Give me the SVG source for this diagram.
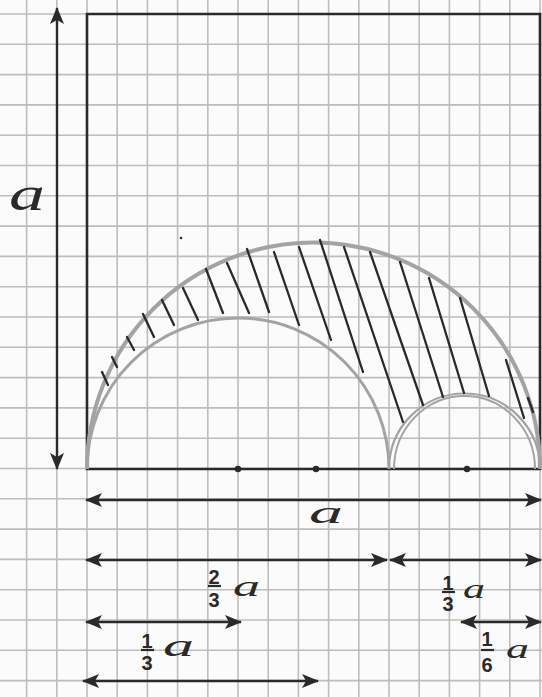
<svg xmlns="http://www.w3.org/2000/svg" width="542" height="697" viewBox="0 0 542 697">
<defs>
<style>
.grid{stroke:#bdbdbd;stroke-width:1.6;fill:none}
.ink{stroke:#2a2a2a;stroke-width:2.6;fill:none;stroke-linecap:round}
.dim{stroke:#2a2a2a;stroke-width:2.4;fill:none;marker-start:url(#ah);marker-end:url(#ah)}
.arc{stroke:#a3a3a3;fill:none}
.hatch{stroke:#2a2a2a;stroke-width:2.3;stroke-linecap:round}
.lbl{font-family:"Liberation Serif","Times New Roman",serif;font-style:italic;fill:#2a2a2a}
.num{font-family:"Liberation Sans",Arial,sans-serif;font-weight:bold;fill:#2a2a2a;font-size:20px;text-anchor:middle}
.bar{stroke:#2a2a2a;stroke-width:2.2}
</style>
<marker id="ah" markerUnits="userSpaceOnUse" markerWidth="18" markerHeight="14" refX="16" refY="7" orient="auto-start-reverse">
<path d="M0,0 L17,7 L0,14 L4,7 z" fill="#2a2a2a"/>
</marker>
</defs>
<rect width="542" height="697" fill="#fbfbfb"/>
<g id="grid">
<path class="grid" d="M26.6,0V697M56.8,0V697M87,0V697M117.2,0V697M147.4,0V697M177.6,0V697M207.8,0V697M238,0V697M268.2,0V697M298.4,0V697M328.6,0V697M358.8,0V697M389,0V697M419.2,0V697M449.4,0V697M479.6,0V697M509.8,0V697M540,0V697"/>
<path class="grid" d="M0,14H542M0,44.3H542M0,74.6H542M0,104.9H542M0,135.2H542M0,165.5H542M0,195.8H542M0,226.1H542M0,256.4H542M0,286.7H542M0,317H542M0,347.3H542M0,377.6H542M0,407.9H542M0,438.2H542M0,468.5H542M0,498.8H542M0,529.1H542M0,559.4H542M0,589.7H542M0,620H542M0,650.3H542M0,680.6H542"/>
</g>
<g id="square">
<path class="ink" d="M87,469 V14 H540 V469 Z" stroke-linecap="butt"/>
</g>
<g id="arcs">
<path class="arc" stroke-width="4" d="M87,469 A226.5,226.5 0 0 1 540,469"/>
<path class="arc" stroke-width="3" d="M87,469 A151,151 0 0 1 389,469"/>
<path class="arc" stroke-width="2.2" d="M389,469 A75.5,75.5 0 0 1 540,469"/>
<path class="arc" stroke-width="2" stroke="#b8b8b8" d="M394,469 A70.5,73 0 0 1 535,469"/>
</g>
<g id="hatching">
<path class="hatch" d="M102,372L108,385M112,357L117,367M127,337L134,350M143,314L154,337M162,300L174,325M183,288L198,320M206,269L223,313M227,263L249,313M247,249L269,312M274,252L299,325M299,247L331,340M320,240L363,372M344,247L403,422M370,252L423,405M400,262L443,397M429,278L464,393M460,298L489,396M506,360L524,418M528,398L533,412"/>
</g>
<g id="points">
<circle cx="238" cy="469" r="3.2" fill="#2a2a2a"/>
<circle cx="316" cy="469" r="3.2" fill="#2a2a2a"/>
<circle cx="467" cy="469" r="3.2" fill="#2a2a2a"/>
<circle cx="181" cy="238" r="1.3" fill="#2a2a2a"/>
</g>
<g id="connectors">
<line class="dim" x1="57" y1="469" x2="57" y2="8"/>
<line class="dim" x1="86" y1="500" x2="541" y2="500"/>
<line class="dim" x1="86" y1="560" x2="387" y2="560"/>
<line class="dim" x1="390" y1="560" x2="541" y2="560"/>
<line class="dim" x1="86" y1="622" x2="241" y2="622"/>
<line class="dim" x1="461" y1="622" x2="541" y2="622"/>
<line class="dim" x1="83" y1="681" x2="318" y2="681"/>
</g>
<g id="labels">
<text class="lbl" x="9" y="210" font-size="48" textLength="36" lengthAdjust="spacingAndGlyphs">a</text>
<text class="lbl" x="309" y="523" font-size="32" textLength="34" lengthAdjust="spacingAndGlyphs">a</text>
<g id="lbl-2-3">
<text class="num" x="214" y="584">2</text>
<line class="bar" x1="208" y1="586" x2="221" y2="586"/>
<text class="num" x="214" y="607">3</text>
<text class="lbl" x="233" y="596" font-size="30" textLength="27" lengthAdjust="spacingAndGlyphs">a</text>
</g>
<g id="lbl-1-3-right">
<text class="num" x="448" y="590">1</text>
<line class="bar" x1="442" y1="592" x2="455" y2="592"/>
<text class="num" x="448" y="611">3</text>
<text class="lbl" x="463" y="598" font-size="28" textLength="22" lengthAdjust="spacingAndGlyphs">a</text>
</g>
<g id="lbl-1-3-left">
<text class="num" x="147" y="648">1</text>
<line class="bar" x1="141" y1="650" x2="154" y2="650"/>
<text class="num" x="147" y="670">3</text>
<text class="lbl" x="163" y="656" font-size="31" textLength="31" lengthAdjust="spacingAndGlyphs">a</text>
</g>
<g id="lbl-1-6">
<text class="num" x="487" y="646">1</text>
<line class="bar" x1="481" y1="650" x2="494" y2="650"/>
<text class="num" x="487" y="672">6</text>
<text class="lbl" x="506" y="658" font-size="28" textLength="23" lengthAdjust="spacingAndGlyphs">a</text>
</g>
</g>
</svg>
